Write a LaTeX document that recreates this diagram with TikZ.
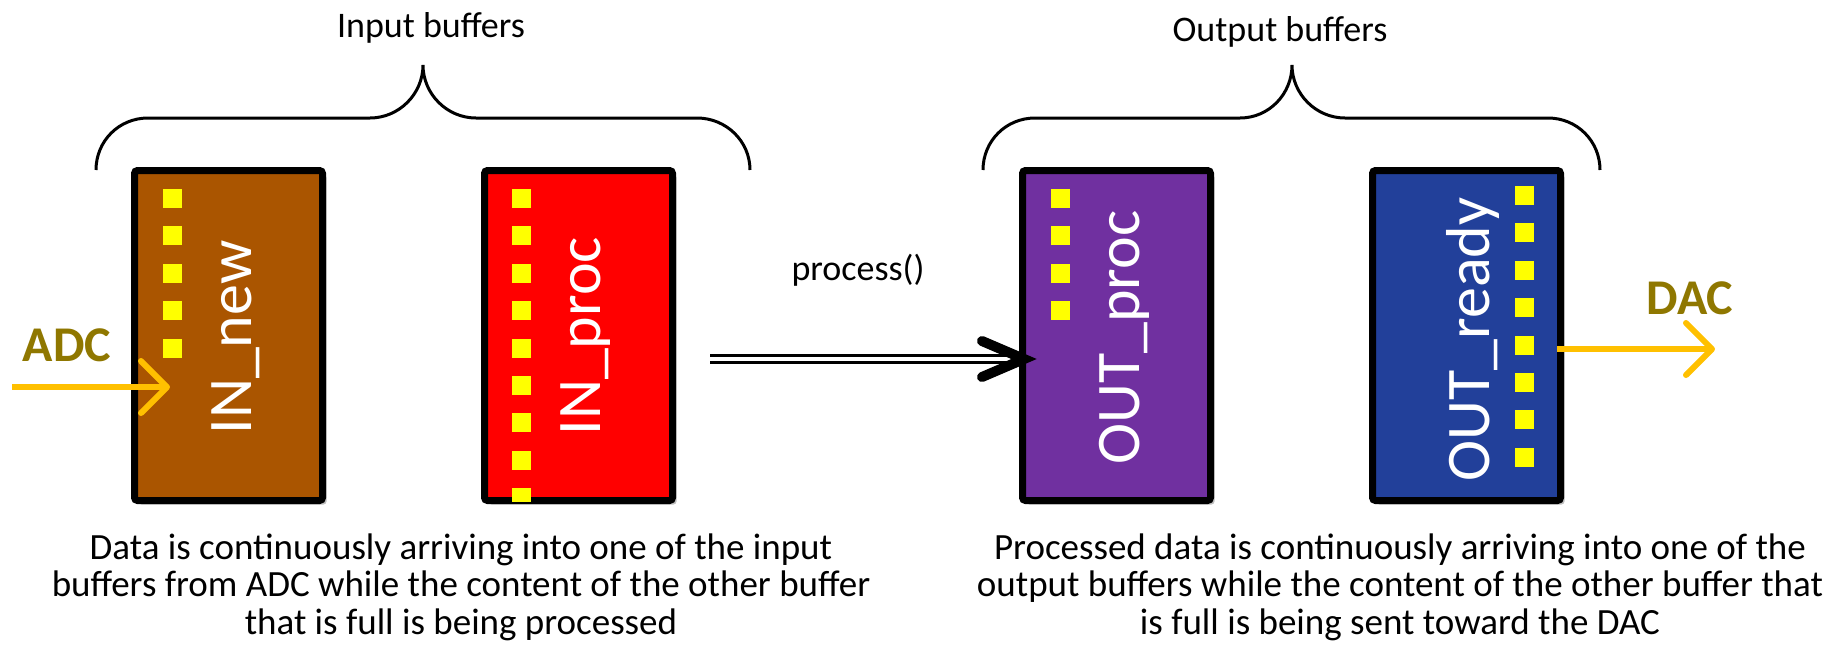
\documentclass[tikz,border=0pt]{standalone}
\usepackage{fontspec}
\setmainfont{Carlito}
\usetikzlibrary{arrows.meta,shadows,calc}
\definecolor{inbrown}{HTML}{AA5500}
\definecolor{inred}{HTML}{FF0000}
\definecolor{outpurple}{HTML}{7030A0}
\definecolor{outblue}{HTML}{22409A}
\definecolor{sqyellow}{HTML}{FFFF00}
\definecolor{arrorange}{HTML}{FFC000}
\definecolor{olivetext}{RGB}{143,119,0}
\begin{document}
\begin{tikzpicture}[x=0.5pt,y=-0.5pt,
  buf/.style={draw=black, line width=3.5pt, rounded corners=1.5pt,
    minimum width=94pt, minimum height=165pt, inner sep=0pt,
    drop shadow={shadow xshift=2pt, shadow yshift=-2pt, opacity=0.25, fill=black}},
  buflabel/.style={rotate=90, text=white, inner sep=0pt,
    font=\fontsize{31}{31}\selectfont},
  sq/.style={fill=sqyellow},
  sigtext/.style={text=olivetext, inner sep=0pt, font=\fontsize{25}{25}\selectfont\bfseries},
  sigarrow/.style={draw=arrorange, line width=3pt,
    -{Straight Barb[length=13pt,width=26pt,round]}},
  brace/.style={draw=black, line width=1.5pt},
  title/.style={inner sep=0pt, font=\fontsize{18}{18}\selectfont},
  desc/.style={inner sep=0pt, align=center, font=\fontsize{18.5}{18.7}\selectfont},
  dbl/.style={draw=black, line width=1.5pt, double=white, double distance=1.8pt},
  chev/.style={draw=black, line width=5pt, line cap=round, line join=miter}
]
\useasboundingbox (0,0) rectangle (1844,650);

% buffers
\node[buf, fill=inbrown]   (INnew)    at (228.5,335.5) {};
\node[buf, fill=inred]     (INproc)   at (578.5,335.5) {};
\node[buf, fill=outpurple] (OUTproc)  at (1116.5,335.5) {};
\node[buf, fill=outblue]   (OUTready) at (1466.5,335.5) {};

% yellow data squares
\foreach \k in {0,...,4} \fill[sq] (163,{189+37.4*\k}) rectangle +(19,19);
\foreach \k in {0,...,7} \fill[sq] (512,{189+37.4*\k}) rectangle +(19,19);
\fill[sq] (512,488) rectangle (531,502);
\foreach \k in {0,...,3} \fill[sq] (1051,{189+37.4*\k}) rectangle +(19,19);
\foreach \k in {0,...,7} \fill[sq] (1515,{186+37.4*\k}) rectangle +(19,19);

% buffer labels
\node[buflabel, anchor=base west] (lINnew)    at (251,435) {IN\_new};
\node[buflabel, anchor=base west] (lINproc)   at (600,436) {IN\_proc};
\node[buflabel, anchor=base west] (lOUTproc)  at (1139,465) {OUT\_proc};
\node[buflabel, anchor=base west] (lOUTready) at (1489,482) {OUT\_ready};

% braces
\draw[brace] (96,170) .. controls (96,141) and (119,118) .. (148,118) -- (370,118)
  .. controls (399,118) and (423,94) .. (423,65)
  .. controls (423,94) and (447,118) .. (476,118) -- (697,118)
  .. controls (726,118) and (750,141) .. (750,170);
\draw[brace] (983,170) .. controls (983,141) and (1006,118) .. (1035,118) -- (1240,118)
  .. controls (1269,118) and (1292,94) .. (1292,65)
  .. controls (1292,94) and (1316,118) .. (1345,118) -- (1548,118)
  .. controls (1577,118) and (1600,141) .. (1600,170);
\node[title, anchor=base] (tin)  at (431,37) {Input buffers};
\node[title, anchor=base] (tout) at (1280,41) {Output buffers};

% ADC / DAC
\node[sigtext] (adc) at (67,345) {ADC};
\node[sigtext] (dac) at (1690,298) {DAC};
\coordinate (adcsrc) at (12,387);
\coordinate (adcin)  at (170,387);
\coordinate (dacout) at (1557,349);
\coordinate (dacdst) at (1715,349);
\draw[sigarrow] (adcsrc) -- (adcin);
\draw[sigarrow] (dacout) -- (dacdst);

% process arrow
\node[title, anchor=base] (proc) at (858,280) {process()};
\coordinate (pstart) at (710,359);
\coordinate (pend)   at (1024,359);
\draw[dbl] (pstart) -- (pend);
\draw[chev] ($(pend)+(-42,-18)$) -- (pend) -- ($(pend)+(-42,18)$);

% descriptions
\node[desc] (descin) at (461,587) {Data is continuously arriving into one of the input\\
buffers from ADC while the content of the other buffer\\
that is full is being processed};
\node[desc] (descout) at (1400,587) {Processed data is continuously arriving into one of the\\
output buffers while the content of the other buffer that\\
is full is being sent toward the DAC};
\end{tikzpicture}
\end{document}
